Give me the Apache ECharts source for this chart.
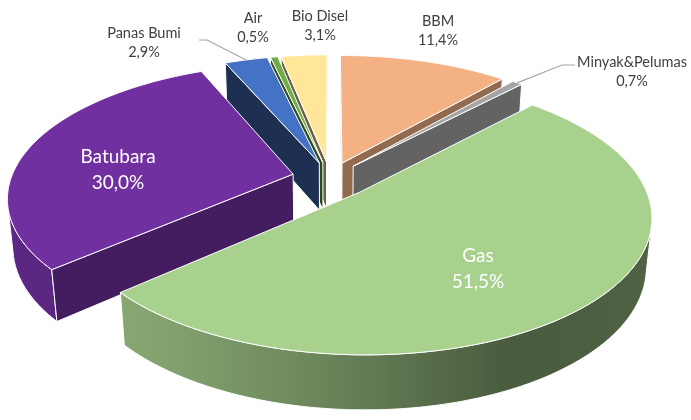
<!DOCTYPE html>
<html>
<head>
<meta charset="utf-8">
<script src="https://cdn.jsdelivr.net/npm/echarts@6/dist/echarts.min.js"></script>
<style>
  html, body { margin: 0; padding: 0; background: #fff; }
  #chart { width: 691px; height: 420px; }
</style>
</head>
<body>
<div id="chart"></div>
<script>
// data
const categories = ["BBM", "Minyak&Pelumas", "Gas", "Batubara", "Panas Bumi", "Air", "Bio Disel"];
const shares = [11.4, 0.7, 51.5, 30.0, 2.9, 0.5, 3.1];

// styles / layout
const topColors = ["#F4B183", "#A5A5A5", "#A9D18E", "#7030A0", "#4472C4", "#70AD47", "#FFE699"];
const explodeBy = [35, 35, 42, 38, 35, 35, 35];
const insideLabel = [false, false, true, true, false, false, false];
const labelCenters = [[438, 31], [632, 72], [478, 269], [118, 170], [144, 43], [253, 28], [320, 26]];
const leaderElbows = [null, [[575, 65], [562, 65]], null, null, [[199, 40], [207, 40]], null, null];

// 3d view of the pie
const view = { cx: 330, cy: 178, r: 282, h: 55, tilt: 27.5, dist: 1500 };
const rad = d => d * Math.PI / 180;
const sinT = Math.sin(rad(view.tilt)), cosT = Math.cos(rad(view.tilt));
const cam = [0, view.dist * sinT, view.dist * cosT];

function project(x, y, z) {
  const d = z * cosT + y * sinT;
  const s = view.dist / (view.dist - d);
  return [view.cx + s * x, view.cy + s * (z * sinT - y * cosT)];
}

function shade(hex, f) {
  const n = parseInt(hex.slice(1), 16);
  const r = Math.round(((n >> 16) & 255) * f);
  const g = Math.round(((n >> 8) & 255) * f);
  const b = Math.round((n & 255) * f);
  return "rgb(" + r + "," + g + "," + b + ")";
}

const total = shares.reduce((a, b) => a + b, 0);
const slices = [];
let acc = 0;
shares.forEach(v => {
  const a0 = acc / total * 360;
  acc += v;
  const a1 = acc / total * 360;
  slices.push({ a0: a0, a1: a1, mid: (a0 + a1) / 2 });
});

// back slices first
const order = shares.map((v, i) => i)
  .sort((a, b) => -Math.cos(rad(slices[a].mid)) + Math.cos(rad(slices[b].mid)));

function wallLight(t) {
  return 0.42 + 0.4 * Math.max(0, Math.cos(rad(t - 245))) + 0.06 * Math.max(0, Math.cos(rad(t - 80)));
}

function renderItem(params, api) {
  const i = api.value(0);
  const sl = slices[i];
  const color = topColors[i];
  const m = rad(sl.mid);
  const ox = explodeBy[i] * Math.sin(m), oz = -explodeBy[i] * Math.cos(m);
  const R = view.r, H = view.h;
  const rimW = (t, y) => [ox + R * Math.sin(rad(t)), y, oz - R * Math.cos(rad(t))];
  const rim = (t, y) => project.apply(null, rimW(t, y));
  const apex = y => project(ox, y, oz);
  const children = [];
  const edge = { stroke: "#fff", lineWidth: 1, lineJoin: "round" };

  // outer wall
  const steps = Math.max(2, Math.ceil((sl.a1 - sl.a0) / 0.5));
  let run = [];
  const runs = [];
  for (let k = 0; k <= steps; k++) {
    const t = sl.a0 + (sl.a1 - sl.a0) * k / steps;
    const p = rimW(t, -H / 2);
    const nx = Math.sin(rad(t)), nz = -Math.cos(rad(t));
    const vis = nx * (cam[0] - p[0]) + nz * (cam[2] - p[2]) > 0;
    if (vis) run.push(t); else if (run.length) { runs.push(run); run = []; }
  }
  if (run.length) runs.push(run);
  runs.forEach(ts => {
    if (ts.length < 2) return;
    const topPts = ts.map(t => rim(t, 0));
    const botPts = ts.map(t => rim(t, -H)).reverse();
    const xs = topPts.map(p => p[0]);
    const minX = Math.min.apply(null, xs), maxX = Math.max.apply(null, xs);
    let fill = shade(color, wallLight(ts[0]));
    if (maxX - minX > 2) {
      const stops = ts.map((t, k) => ({ offset: (xs[k] - minX) / (maxX - minX), color: shade(color, wallLight(t)) }))
        .sort((a, b) => a.offset - b.offset);
      fill = { type: "linear", x: minX, y: 0, x2: maxX, y2: 0, global: true, colorStops: stops };
    }
    children.push({ type: "polygon", shape: { points: topPts.concat(botPts) }, style: Object.assign({ fill: fill }, edge) });
  });

  // cut faces
  [[sl.a0, sl.a0 - 90], [sl.a1, sl.a1 + 90]].forEach(([a, na]) => {
    const nx = Math.sin(rad(na)), nz = -Math.cos(rad(na));
    if (nx * (cam[0] - ox) + nz * (cam[2] - oz) <= 0) return;
    const nn = ((na % 360) + 360) % 360;
    const f = nn > 90 && nn < 180 ? 0.6 : 0.42;
    children.push({
      type: "polygon",
      shape: { points: [apex(0), rim(a, 0), rim(a, -H), apex(-H)] },
      style: Object.assign({ fill: shade(color, f) }, edge)
    });
  });

  // top
  const top = [apex(0)];
  for (let k = 0; k <= steps; k++) top.push(rim(sl.a0 + (sl.a1 - sl.a0) * k / steps, 0));
  children.push({ type: "polygon", shape: { points: top }, style: Object.assign({ fill: color }, edge) });

  // label
  const pct = shares[i].toFixed(1).replace(".", ",") + "%";
  const c = labelCenters[i];
  const inside = insideLabel[i];
  children.push({
    type: "text",
    z2: 100,
    style: {
      text: categories[i] + "\n" + pct,
      x: c[0], y: c[1],
      fill: inside ? "#ffffff" : "#404040",
      font: (inside ? 19 : 14.5) + "px Lato",
      lineHeight: inside ? 26 : 19,
      align: "center", verticalAlign: "middle",
      textAlign: "center", textVerticalAlign: "middle"
    }
  });
  if (leaderElbows[i]) {
    children.push({
      type: "polyline",
      z2: 90,
      shape: { points: leaderElbows[i].concat([rim(sl.mid, 0)]) },
      style: { stroke: "#A6A6A6", lineWidth: 1.2, fill: null }
    });
  }
  return { type: "group", children: children };
}

const chart = echarts.init(document.getElementById("chart"), null, { renderer: "canvas" });
chart.setOption({
  animation: false,
  backgroundColor: "#fff",
  series: [{
    type: "custom",
    coordinateSystem: "none",
    renderItem: renderItem,
    data: order.map(i => [i])
  }]
});
</script>
</body>
</html>
